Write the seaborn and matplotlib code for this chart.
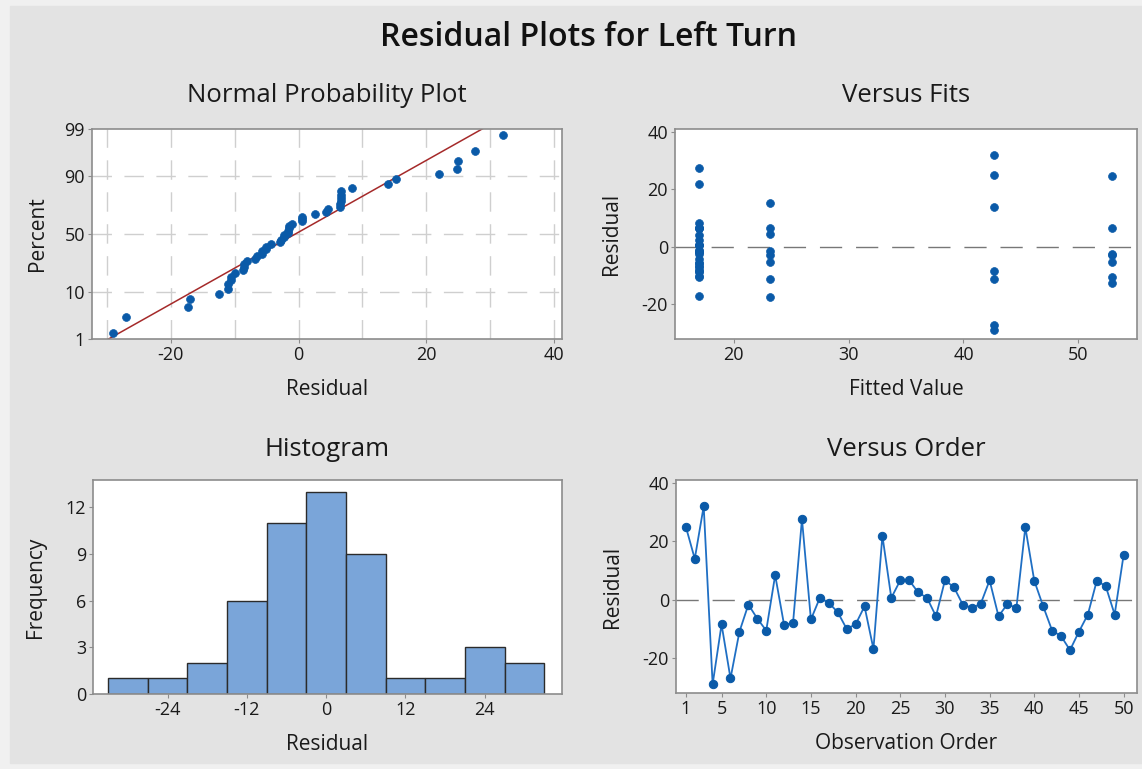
import numpy as np
import pandas as pd
import matplotlib
matplotlib.use("Agg")
import matplotlib.pyplot as plt
from matplotlib.patches import Rectangle
import seaborn as sns
from statistics import NormalDist

sns.set_theme(style="white")
plt.rcParams['font.family'] = ['Open Sans', 'DejaVu Sans']

# residuals in observation order
residuals = [25, 14, 32, -29, -8.5, -27, -11, -1.7, -6.5, -10.6,
             8.4, -8.7, -8, 27.6, -6.8, 0.6, -1.1, -4.3, -10, -8.5,
             -2.3, -16.9, 21.9, 0.6, 6.6, 6.6, 2.5, 0.6, -5.7, 6.6,
             4.3, -1.7, -2.8, -1.5, 6.6, -5.7, -1.5, -2.9, 24.8, 6.5,
             -2.3, -10.6, -12.5, -17.3, -11, -5.1, 6.5, 4.6, -5.1, 15.3]

# fitted value of each observation (four groups)
fitted = [42.7, 42.7, 42.7, 42.7, 42.7, 42.7, 42.7, 17.0, 17.0, 17.0,
          17.0, 17.0, 17.0, 17.0, 17.0, 17.0, 17.0, 17.0, 17.0, 17.0,
          17.0, 17.0, 17.0, 17.0, 17.0, 17.0, 17.0, 17.0, 17.0, 17.0,
          17.0, 17.0, 23.2, 23.2, 17.0, 17.0, 17.0, 52.9, 52.9, 52.9,
          52.9, 52.9, 52.9, 23.2, 23.2, 52.9, 23.2, 23.2, 23.2, 23.2]

pct_ticks = [1, 10, 50, 90, 99]
pct_grid = [10, 50, 90]
hist_edges = [-33, -27, -21, -15, -9, -3, 3, 9, 15, 21, 27, 33]
hist_ticks = [-24, -12, 0, 12, 24]
order_ticks = [1, 5, 10, 15, 20, 25, 30, 35, 40, 45, 50]

df = pd.DataFrame({'order': np.arange(1, len(residuals) + 1),
                   'resid': residuals, 'fit': fitted})

blue = '#0a5aa8'
spine_col = '#8c8c8c'
W, H = 1142, 769

fig = plt.figure(figsize=(W / 100, H / 100), dpi=100, facecolor='#f0f0f0')
fig.patches.append(Rectangle((10 / W, 6 / H), 1 - 10 / W, 1 - 12 / H,
                             transform=fig.transFigure, color='#e3e3e3', zorder=-10))


def make_ax(x0, y0, x1, y1):
    ax = fig.add_axes([x0 / W, 1 - y1 / H, (x1 - x0) / W, (y1 - y0) / H])
    ax.set_facecolor('white')
    for s in ax.spines.values():
        s.set_color(spine_col)
        s.set_linewidth(1.2)
    ax.tick_params(axis='both', which='major', labelsize=13, length=3,
                   width=0.8, color=spine_col, direction='out', pad=2,
                   bottom=True, left=True, labelcolor='#1a1a1a')
    return ax


ax1 = make_ax(92, 129, 562, 339)
ax2 = make_ax(675, 129, 1137, 339)
ax3 = make_ax(93, 480, 562, 694)
ax4 = make_ax(676, 480, 1137, 693)

lab_kw = dict(fontsize=15, color='#1a1a1a')

# Normal probability plot
nd = NormalDist()
srt = np.sort(df['resid'].values)
n = len(srt)
z = [nd.inv_cdf((i - 0.3) / (n + 0.4)) for i in range(1, n + 1)]
grid_kw = dict(color='#cfcfcf', lw=1.0, ls=(0, (14, 9)), zorder=0)
for p in pct_grid:
    ax1.axhline(nd.inv_cdf(p / 100), **grid_kw)
for gx in range(-30, 41, 10):
    ax1.axvline(gx, **grid_kw)
mu, sd = srt.mean(), srt.std(ddof=1)
zz = np.array([nd.inv_cdf(0.005), nd.inv_cdf(0.995)])
ax1.plot(mu + sd * zz, zz, color='#a52a2a', lw=1.1, zorder=2)
sns.scatterplot(x=srt, y=z, ax=ax1, color=blue, s=32, edgecolor=blue,
                linewidth=0.5, zorder=3)
ax1.set_xlim(-32.3, 41.2)
ax1.set_ylim(nd.inv_cdf(0.01), nd.inv_cdf(0.99))
ax1.set_yticks([nd.inv_cdf(p / 100) for p in pct_ticks])
ax1.set_yticklabels([str(p) for p in pct_ticks])
ax1.set_xticks([-20, 0, 20, 40])
ax1.set_xticklabels(['-20', '0', '20', '40'])
ax1.set_xlabel('Residual', labelpad=11, **lab_kw)
ax1.set_ylabel('Percent', labelpad=12, **lab_kw)

# Versus fits
ax2.axhline(0, color='#777777', lw=1.0, ls=(0, (16, 10)), zorder=1)
sns.scatterplot(data=df, x='fit', y='resid', ax=ax2, color=blue, s=32,
                edgecolor=blue, linewidth=0.5, zorder=3)
ax2.set_xlim(14.9, 55.1)
ax2.set_ylim(-32, 41)
ax2.set_xticks([20, 30, 40, 50])
ax2.set_yticks([-20, 0, 20, 40])
ax2.set_yticklabels(['-20', '0', '20', '40'])
ax2.set_xlabel('Fitted Value', labelpad=11, **lab_kw)
ax2.set_ylabel('Residual', labelpad=14, **lab_kw)

# Histogram
sns.histplot(data=df, x='resid', bins=hist_edges, ax=ax3, color='#7aa5d9',
             edgecolor='#2b2b2b', linewidth=1.0, alpha=1)
ax3.set_xlim(-35.3, 35.7)
ax3.set_ylim(0, 13.75)
ax3.set_xticks(hist_ticks)
ax3.set_xticklabels([str(t) for t in hist_ticks])
ax3.set_yticks([0, 3, 6, 9, 12])
ax3.set_xlabel('Residual', labelpad=11, **lab_kw)
ax3.set_ylabel('Frequency', labelpad=14, **lab_kw)

# Versus order
ax4.axhline(0, color='#777777', lw=1.0, ls=(0, (16, 10)), zorder=1)
sns.lineplot(data=df, x='order', y='resid', ax=ax4, color='#1f6fc4', lw=1.3,
             marker='o', markersize=6, markeredgecolor=blue,
             markerfacecolor=blue, zorder=3)
ax4.set_xlim(-0.1, 51.5)
ax4.set_ylim(-32, 41)
ax4.set_xticks(order_ticks)
ax4.set_yticks([-20, 0, 20, 40])
ax4.set_yticklabels(['-20', '0', '20', '40'])
ax4.set_xlabel('Observation Order', labelpad=11, **lab_kw)
ax4.set_ylabel('Residual', labelpad=14, **lab_kw)

tkw = dict(fontsize=18.5, color='#1a1a1a', ha='center', va='center')
fig.text(327 / W, 1 - 95 / H, 'Normal Probability Plot', **tkw)
fig.text(906 / W, 1 - 95 / H, 'Versus Fits', **tkw)
fig.text(327 / W, 1 - 449 / H, 'Histogram', **tkw)
fig.text(906 / W, 1 - 449 / H, 'Versus Order', **tkw)
fig.text(588 / W, 1 - 37 / H, 'Residual Plots for Left Turn', fontsize=23,
         fontweight='semibold', color='#111111', ha='center', va='center')

fig.savefig('out.png', dpi=100, facecolor=fig.get_facecolor())
